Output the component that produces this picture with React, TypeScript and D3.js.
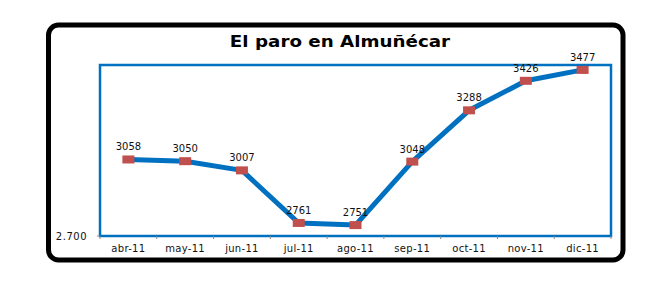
import React from "react";
import * as d3 from "d3";

const categories = ["abr-11", "may-11", "jun-11", "jul-11", "ago-11", "sep-11", "oct-11", "nov-11", "dic-11"];
const values = [3058, 3050, 3007, 2761, 2751, 3048, 3288, 3426, 3477];
const yDomain = [2700, 3500];
const yTickLabels = ["2.700"];
const title = "El paro en Almuñécar";

export default function App() {
  const W = 670, H = 300;
  const plot = { left: 100, right: 611, top: 65, bottom: 236 };
  const x = d3.scaleBand().domain(categories).range([plot.left, plot.right]);
  const y = d3.scaleLinear().domain(yDomain).range([plot.bottom, plot.top]);
  const data = categories.map((c, i) => ({ c, v: values[i] }));
  const line = d3.line<{ c: string; v: number }>()
    .x(d => (x(d.c) as number) + x.bandwidth() / 2)
    .y(d => y(d.v));
  const tickXs = categories.map(c => x(c) as number).concat([plot.right]);
  const font = "DejaVu Sans, Verdana, sans-serif";
  return (
    <svg width={W} height={H} style={{ position: "absolute", left: 0, top: 0 }}>
      <rect x={0} y={0} width={W} height={H} fill="#fff" />
      <rect x={48.5} y={25} width={574.5} height={235} rx={10} ry={10} fill="#fff" stroke="#000" strokeWidth={5} />
      <g transform="translate(340,47) scale(1.18,1)">
        <text x={0} y={0} textAnchor="middle" fontFamily={font} fontWeight="bold" fontSize={15.5} fill="#000">{title}</text>
      </g>
      <rect x={plot.left} y={plot.top} width={plot.right - plot.left} height={plot.bottom - plot.top} fill="none" stroke="#0070C0" strokeWidth={2.5} />
      {tickXs.map((tx, i) => (
        <line key={i} x1={tx} x2={tx} y1={plot.bottom} y2={plot.bottom + 3} stroke="#888" strokeWidth={1} />
      ))}
      <line x1={plot.left - 3} x2={plot.left} y1={plot.bottom} y2={plot.bottom} stroke="#888" strokeWidth={1} />
      {yTickLabels.map((t, i) => (
        <text key={i} x={87} y={y(yDomain[0]) + 4} textAnchor="end" fontFamily={font} fontSize={10} letterSpacing={0.5} fill="#111">{t}</text>
      ))}
      {categories.map(c => (
        <text key={c} x={(x(c) as number) + x.bandwidth() / 2} y={252} textAnchor="middle" fontFamily={font} fontSize={10} letterSpacing={0.3} fill="#111">{c}</text>
      ))}
      <path d={line(data) || ""} fill="none" stroke="#0070C0" strokeWidth={5} strokeLinejoin="round" />
      {data.map(d => (
        <rect key={d.c} x={(x(d.c) as number) + x.bandwidth() / 2 - 6} y={y(d.v) - 4} width={12} height={8} fill="#C0504D" />
      ))}
      {data.map(d => (
        <text key={d.c + "l"} x={(x(d.c) as number) + x.bandwidth() / 2} y={y(d.v) - 9} textAnchor="middle" fontFamily={font} fontSize={10} fill="#111">{d.v}</text>
      ))}
    </svg>
  );
}
